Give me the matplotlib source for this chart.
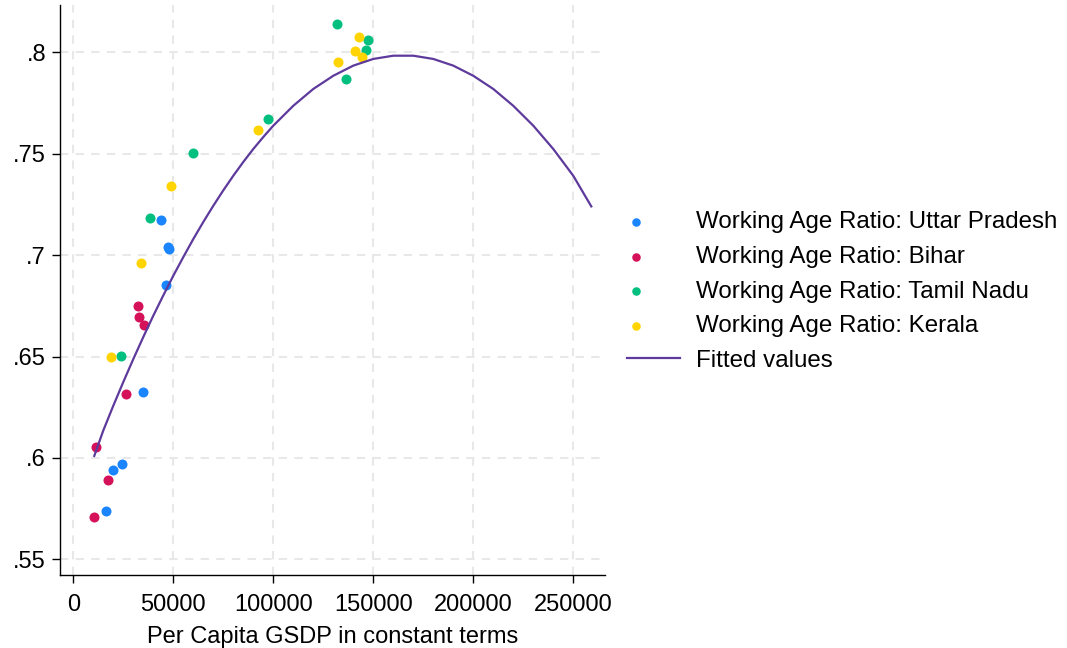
import numpy as np
import matplotlib
matplotlib.use("Agg")
import matplotlib.pyplot as plt
from matplotlib.legend_handler import HandlerPathCollection
from matplotlib.collections import PathCollection

plt.rcParams['font.family'] = ['Liberation Sans', 'DejaVu Sans']

# --- Datos ---
up_gsdp = [43850, 47500, 47900, 46350, 35000, 24200, 19700, 16200]
up_war = [0.7172, 0.7041, 0.7030, 0.6853, 0.6326, 0.5970, 0.5940, 0.5740]

bihar_gsdp = [32500, 32700, 35500, 26350, 11200, 17350, 10200]
bihar_war = [0.6749, 0.6695, 0.6654, 0.6317, 0.6055, 0.5889, 0.5710]

tn_gsdp = [23700, 38200, 59700, 97350, 131850, 147200, 146500, 136350]
tn_war = [0.6504, 0.7183, 0.7502, 0.7670, 0.8141, 0.8061, 0.8011, 0.7870]

kerala_gsdp = [18850, 33700, 48850, 92500, 132200, 140850, 142700, 144200]
kerala_war = [0.6497, 0.6963, 0.7341, 0.7617, 0.7954, 0.8006, 0.8077, 0.7978]

# curva ajustada (valores leidos sobre la linea)
fit_gsdp = [10500, 15000, 20000, 25000, 30000, 35000, 40000, 45000, 50000, 55000,
            60000, 65000, 70000, 75000, 80000, 85000, 90000, 95000,
            100000, 110000, 120000, 130000, 140000, 150000, 160000, 170000,
            180000, 190000, 200000, 210000, 220000, 230000, 240000, 250000, 259000]
fit_war = [0.601, 0.6135, 0.6257, 0.6374, 0.6487, 0.6596, 0.6701, 0.6801, 0.6898, 0.6990,
           0.7079, 0.7163, 0.7243, 0.7319, 0.7391, 0.7459, 0.7523, 0.7582,
           0.7638, 0.7736, 0.7819, 0.7884, 0.7934, 0.7967, 0.7983, 0.7983,
           0.7967, 0.7934, 0.7884, 0.7819, 0.7736, 0.7638, 0.7523, 0.7391, 0.7240]

y_ticks = [0.55, 0.6, 0.65, 0.7, 0.75, 0.8]
y_labels = ['.55', '.6', '.65', '.7', '.75', '.8']
x_ticks = [0, 50000, 100000, 150000, 200000, 250000]
x_labels = ['0', '50000', '100000', '150000', '200000', '250000']


class HandlerDotLeft(HandlerPathCollection):
    # punto del legend hacia la izquierda, como en Stata
    def get_xdata(self, legend, xdescent, ydescent, width, height, fontsize):
        xdata = [-xdescent, -xdescent + width]
        return xdata, [-xdescent + 0.17 * width]


fig = plt.figure(figsize=(10.67, 6.48), dpi=100)
ax = fig.add_axes([0.0562, 0.1127, 0.5108, 0.8796])

ms = 52
ax.scatter(up_gsdp, up_war, s=ms, color='#1A85FF', lw=0, zorder=3,
           label='Working Age Ratio: Uttar Pradesh')
ax.scatter(bihar_gsdp, bihar_war, s=ms, color='#D41159', lw=0, zorder=3,
           label='Working Age Ratio: Bihar')
ax.scatter(tn_gsdp, tn_war, s=ms, color='#00BF7F', lw=0, zorder=3,
           label='Working Age Ratio: Tamil Nadu')
ax.scatter(kerala_gsdp, kerala_war, s=ms, color='#FFD400', lw=0, zorder=3,
           label='Working Age Ratio: Kerala')
ax.plot(fit_gsdp, fit_war, color='#5D3A9B', lw=1.6, zorder=4, label='Fitted values')

ax.set_xlim(-6650, 265850)
ax.set_ylim(0.5423, 0.8233)
ax.set_xticks(x_ticks)
ax.set_xticklabels(x_labels)
ax.set_yticks(y_ticks)
ax.set_yticklabels(y_labels)
ax.tick_params(labelsize=17, length=6, width=1, pad=4)
ax.tick_params(axis='x', pad=8)
ax.set_xlabel('Per Capita GSDP in constant terms', fontsize=17, labelpad=7)

ax.grid(True, color='#E8E8E8', lw=1.5, linestyle=(0, (4, 3.5)), zorder=0)
ax.set_axisbelow(True)
for s in ['top', 'right']:
    ax.spines[s].set_visible(False)
for s in ['left', 'bottom']:
    ax.spines[s].set_linewidth(1.0)

fig.legend(loc='center left', bbox_to_anchor=(0.5876, 0.550), frameon=False,
           fontsize=17.4, borderpad=0, borderaxespad=0, handlelength=2.2,
           handletextpad=0.67, labelspacing=0.52, markerscale=0.85,
           scatterpoints=1,
           handler_map={PathCollection: HandlerDotLeft()})

fig.savefig('out.png', dpi=100)
